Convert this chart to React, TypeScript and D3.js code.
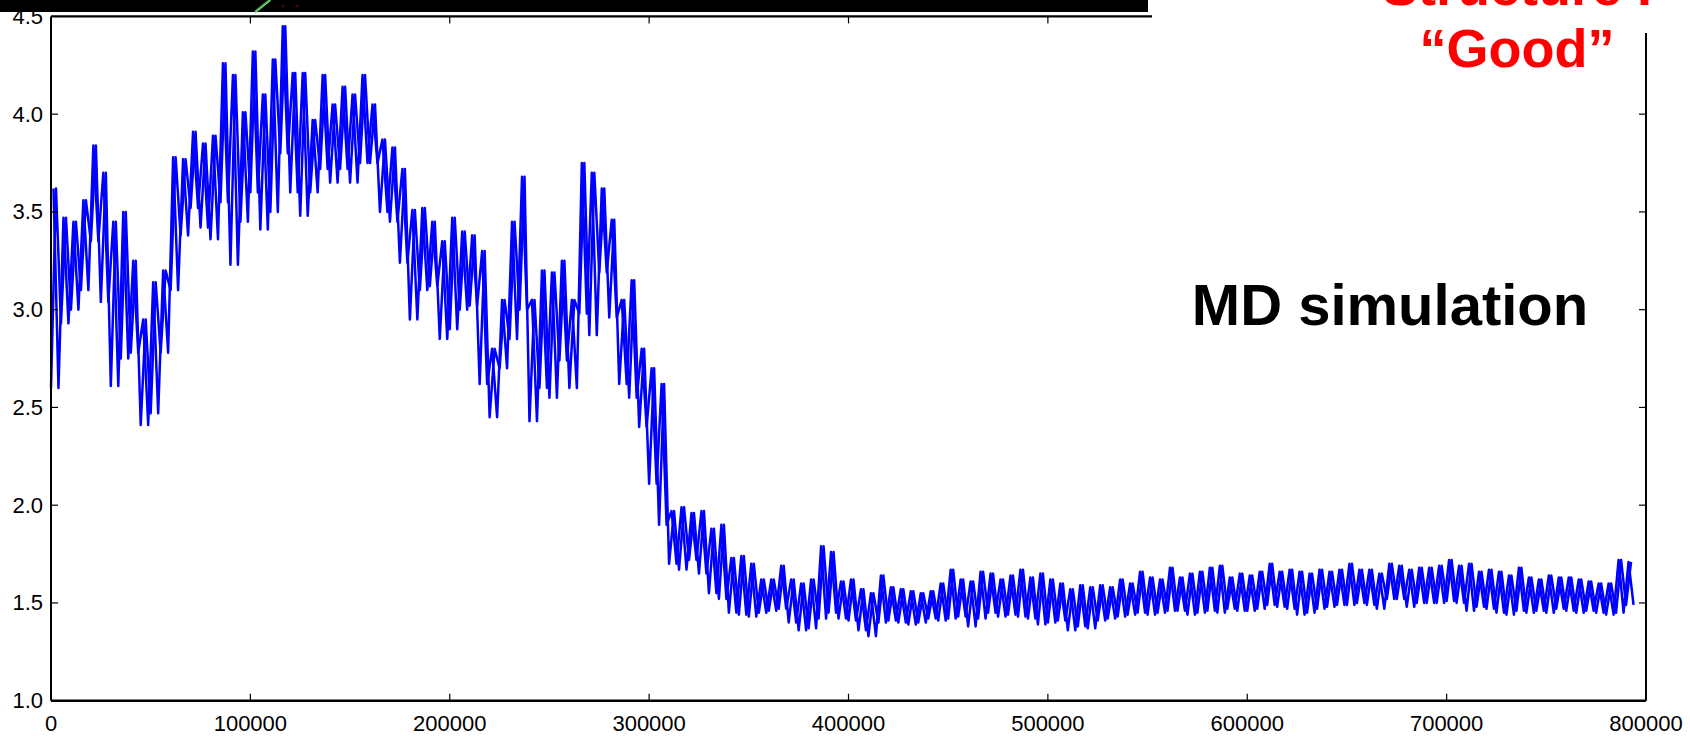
import React from "react";
import * as d3 from "d3";

// Sampled trace: each 5000-step window, its lowest and highest value
const binWidth = 5000;
const lower = [
  2.60, 2.93, 3.00, 3.10, 3.35, 3.04, 2.61, 2.75, 2.78, 2.41,
  2.47, 2.78, 3.10, 3.38, 3.52, 3.42, 3.36, 3.55, 3.23, 3.45,
  3.60, 3.41, 3.50, 3.80, 3.60, 3.48, 3.60, 3.72, 3.65, 3.72,
  3.65, 3.75, 3.75, 3.50, 3.45, 3.24, 2.95, 3.10, 3.12, 2.85,
  2.90, 3.00, 3.02, 2.62, 2.45, 2.70, 2.85, 3.00, 2.43, 2.60,
  2.55, 2.74, 2.60, 2.98, 2.87, 3.19, 2.96, 2.62, 2.55, 2.40,
  2.11, 1.90, 1.70, 1.67, 1.72, 1.65, 1.55, 1.52, 1.45, 1.44,
  1.43, 1.45, 1.46, 1.47, 1.40, 1.36, 1.37, 1.42, 1.45, 1.42,
  1.41, 1.36, 1.33, 1.40, 1.41, 1.40, 1.39, 1.40, 1.42, 1.41,
  1.42, 1.43, 1.38, 1.42, 1.45, 1.43, 1.44, 1.43, 1.42, 1.39,
  1.40, 1.41, 1.36, 1.38, 1.37, 1.41, 1.42, 1.43, 1.44, 1.45,
  1.44, 1.45, 1.46, 1.46, 1.44, 1.45, 1.46, 1.45, 1.47, 1.46,
  1.46, 1.47, 1.49, 1.48, 1.47, 1.44, 1.45, 1.47, 1.48, 1.49,
  1.49, 1.50, 1.49, 1.47, 1.52, 1.52, 1.48, 1.50, 1.50, 1.50,
  1.51, 1.50, 1.46, 1.48, 1.47, 1.45, 1.44, 1.46, 1.45, 1.46,
  1.45, 1.47, 1.46, 1.45, 1.46, 1.45, 1.44, 1.45, 1.49,
];
const upper = [
  3.62, 3.47, 3.45, 3.56, 3.84, 3.70, 3.45, 3.50, 3.25, 2.95,
  3.14, 3.20, 3.78, 3.77, 3.91, 3.85, 3.89, 4.26, 4.20, 4.01,
  4.32, 4.10, 4.28, 4.45, 4.21, 4.21, 3.97, 4.20, 4.05, 4.14,
  4.10, 4.20, 4.05, 3.87, 3.83, 3.72, 3.51, 3.52, 3.45, 3.35,
  3.47, 3.40, 3.38, 3.30, 2.80, 3.05, 3.45, 3.68, 3.05, 3.20,
  3.19, 3.25, 3.05, 3.75, 3.70, 3.62, 3.46, 3.05, 3.15, 2.80,
  2.70, 2.62, 1.97, 1.99, 1.96, 1.97, 1.88, 1.90, 1.73, 1.74,
  1.70, 1.62, 1.62, 1.69, 1.62, 1.60, 1.62, 1.79, 1.76, 1.61,
  1.62, 1.57, 1.55, 1.64, 1.58, 1.57, 1.56, 1.55, 1.56, 1.60,
  1.67, 1.62, 1.61, 1.66, 1.65, 1.62, 1.64, 1.67, 1.63, 1.65,
  1.62, 1.60, 1.57, 1.59, 1.58, 1.59, 1.58, 1.62, 1.60, 1.66,
  1.63, 1.62, 1.68, 1.63, 1.65, 1.66, 1.68, 1.69, 1.63, 1.65,
  1.64, 1.66, 1.70, 1.66, 1.67, 1.66, 1.65, 1.67, 1.66, 1.67,
  1.70, 1.67, 1.67, 1.65, 1.70, 1.69, 1.67, 1.68, 1.68, 1.69,
  1.72, 1.69, 1.70, 1.66, 1.67, 1.66, 1.64, 1.68, 1.63, 1.62,
  1.64, 1.63, 1.63, 1.62, 1.61, 1.60, 1.60, 1.72, 1.71,
];

const xTicks = [0, 100000, 200000, 300000, 400000, 500000, 600000, 700000, 800000];
const yTicks = [1.0, 1.5, 2.0, 2.5, 3.0, 3.5, 4.0, 4.5];
const yTickLabels = ["1.0", "1.5", "2.0", "2.5", "3.0", "3.5", "4.0", "4.5"];
const titleLines = ["Structure I", "\u201CGood\u201D"];
const annotation = "MD simulation";

const W = 1690;
const H = 737;
const FONT = "'Liberation Sans', Arial, Helvetica, sans-serif";

export default function App() {
  const x = d3.scaleLinear().domain([0, 800000]).range([51, 1646]);
  const y = d3.scaleLinear().domain([1.0, 4.5]).range([700.7, 16.4]);

  // trace through each window: low then high
  const traceA: [number, number][] = [];
  // same windows, visited high then low (offset by a quarter window)
  const traceB: [number, number][] = [];
  lower.forEach((lo, i) => {
    const start = i * binWidth;
    traceA.push([start, lo]);
    traceA.push([start + binWidth / 2, upper[i]]);
    traceB.push([start + binWidth / 4, upper[i]]);
    traceB.push([start + (3 * binWidth) / 4, lo]);
  });
  const line = d3
    .line<[number, number]>()
    .x((d) => x(d[0]))
    .y((d) => y(d[1]));

  const topEnd = 1152;
  const rightTop = 33;
  const tickLen = 7;
  const axisColor = "#000";

  return (
    <svg
      width={W}
      height={H}
      style={{ position: "absolute", left: 0, top: 0, background: "#fff" }}
      fontFamily={FONT}
    >
      <rect x={0} y={0} width={W} height={H} fill="#fff" />
      {/* data */}
      <path d={line(traceA) || ""} fill="none" stroke="#0000ff" strokeWidth={2.5} strokeLinejoin="round" />
      <path d={line(traceB) || ""} fill="none" stroke="#0000ff" strokeWidth={2.5} strokeLinejoin="round" />

      {/* axes */}
      <line x1={x(0)} x2={x(0)} y1={y(4.5)} y2={y(1.0)} stroke={axisColor} strokeWidth={2} />
      <line x1={x(0)} x2={x(800000)} y1={y(1.0)} y2={y(1.0)} stroke={axisColor} strokeWidth={2.6} />
      <line x1={x(0)} x2={topEnd} y1={y(4.5)} y2={y(4.5)} stroke={axisColor} strokeWidth={2.2} />
      <line x1={x(800000)} x2={x(800000)} y1={rightTop} y2={y(1.0)} stroke={axisColor} strokeWidth={2} />

      {xTicks.map((t) => (
        <g key={"xt" + t}>
          {t > 0 && t < 800000 && (
            <line x1={x(t)} x2={x(t)} y1={y(1.0)} y2={y(1.0) - tickLen} stroke={axisColor} strokeWidth={1.2} />
          )}
          {t > 0 && x(t) < topEnd && (
            <line x1={x(t)} x2={x(t)} y1={y(4.5)} y2={y(4.5) + tickLen} stroke={axisColor} strokeWidth={1.2} />
          )}
          <text x={x(t)} y={731} textAnchor="middle" fontSize={22} fill="#000">
            {String(t)}
          </text>
        </g>
      ))}
      {yTicks.map((t, i) => (
        <g key={"yt" + t}>
          {t > 1.0 && t < 4.5 && (
            <line x1={x(0)} x2={x(0) + tickLen} y1={y(t)} y2={y(t)} stroke={axisColor} strokeWidth={1.2} />
          )}
          {t > 1.0 && y(t) > rightTop && (
            <line x1={x(800000)} x2={x(800000) - tickLen} y1={y(t)} y2={y(t)} stroke={axisColor} strokeWidth={1.2} />
          )}
          <text x={43} y={y(t)} textAnchor="end" dominantBaseline="central" fontSize={22} fill="#000">
            {yTickLabels[i]}
          </text>
        </g>
      ))}

      {/* slide artefacts at the top */}
      <rect x={0} y={0} width={1148} height={12} fill="#000" />
      <line x1={270} y1={0} x2={255} y2={12} stroke="#4caf50" strokeWidth={2.5} />
      <line x1={271} y1={0} x2={256} y2={12} stroke="#9be59f" strokeWidth={1} opacity={0.7} />
      <circle cx={283} cy={6} r={1.5} fill="#3a0808" />
      <circle cx={297} cy={6} r={1.5} fill="#3a0808" />

      {/* annotations */}
      <text x={1517} y={5} textAnchor="middle" fontSize={54} fontWeight="bold" fill="#ff0000">
        {titleLines[0]}
      </text>
      <text x={1517} y={67} textAnchor="middle" fontSize={54} fontWeight="bold" fill="#ff0000">
        {titleLines[1]}
      </text>
      <text x={1390} y={325} textAnchor="middle" fontSize={58} fontWeight="bold" fill="#000">
        {annotation}
      </text>
    </svg>
  );
}
